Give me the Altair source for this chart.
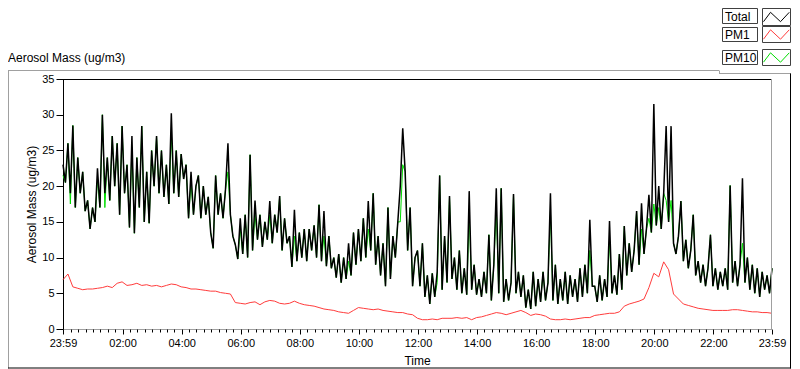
import altair as alt
import pandas as pd

# ---------------- data ----------------
# Total aerosol mass, one value every 5 minutes starting 23:59 (289 values)
total_vals = [
    23, 20.5, 26, 19, 28.5, 17, 24, 19, 22, 16.5, 18, 14,
    17, 15, 22.5, 17, 30, 19, 24, 18, 27, 20, 26, 16,
    28.4, 19, 23, 14.2, 27, 13.4, 24, 17, 28.4, 15, 22, 14.8,
    25, 20, 27, 19, 25, 18.5, 23, 17.5, 30.2, 19, 25, 18.5,
    24.5, 21, 23, 15.5, 22, 16, 20, 21.5, 15.5, 20, 16, 18.5,
    13.5, 11.3, 21.5, 16, 19, 15.5, 19.5, 26, 16, 13, 11.8, 9.8,
    15.5, 10.5, 16, 10, 24.4, 11, 18, 12.5, 16, 11.5, 15, 12.5,
    17.9, 12, 16, 13.5, 18.6, 11, 15.5, 12, 13, 8.7, 16.7, 9.5,
    13.5, 10, 14, 9.5, 14, 11, 14.5, 10, 17.4, 9.5, 16.5, 8.8,
    13, 8.5, 10, 7.2, 10.5, 6.5, 10, 7, 12, 7.5, 13.5, 9,
    14, 9.5, 15.5, 10, 17.9, 11, 19, 9, 13, 7.5, 12, 6,
    17, 7, 13, 10, 15, 20, 28.1, 22, 11, 17, 6, 10,
    11, 6, 12, 4.5, 7.5, 3.5, 7.8, 4.5, 8, 21.5, 5.5, 13,
    6.5, 18.6, 7, 10, 5.5, 11, 5, 8.5, 4.8, 19.3, 5.5, 9,
    4.8, 7, 4.5, 8, 5, 13.2, 4, 9, 19.7, 5, 19.7, 3.8,
    7, 4, 6.5, 18.9, 5, 8, 4.5, 7.5, 3, 5.5, 2.8, 8,
    3.2, 7, 3.8, 8, 4, 6.5, 19, 4, 9, 3.5, 7, 4,
    8, 3.5, 7.5, 4.5, 7, 3.8, 8.5, 4.5, 9, 5, 15.3, 6,
    6, 3.8, 7.5, 4, 7, 4.5, 15.1, 5, 7.5, 4.8, 10.5, 5.5,
    14.4, 7.5, 12, 8, 11, 16.5, 9, 17.6, 10.5, 14, 18.8, 13.5,
    31.5, 14.5, 20, 14, 19, 28.4, 15, 28.4, 12, 10.5, 13, 17.9,
    9.5, 12.5, 8.5, 11, 16, 7.5, 9.5, 6.5, 9, 6, 8.5, 13.2,
    6, 8.5, 5.5, 8, 6, 8.5, 5.5, 20.1, 6.5, 9.5, 6, 9,
    21.1, 6.5, 10, 5.5, 9, 5, 8.5, 4.5, 8, 5.5, 7.5, 5, 8.5,
]

# PM10, one value every 5 minutes (mostly hidden under Total)
pm10_vals = [
    21.5, 20.5, 26, 17.5, 28.5, 17, 24, 19, 22, 16.5, 18, 14,
    17, 15, 21, 17, 30, 17, 24, 18, 27, 20, 26, 16,
    28.4, 19, 23, 14.2, 25.5, 13.4, 24, 17, 28.4, 15, 22, 14.8,
    25, 20, 27, 19, 25, 18.5, 23, 17.5, 27.5, 19, 25, 18.5,
    24.5, 21, 23, 15.5, 20.5, 16, 20, 21.5, 15.5, 20, 16, 18.5,
    13.5, 11.3, 21.5, 16, 19, 15.5, 19.5, 22, 16, 13, 11.8, 9.8,
    14, 10.5, 16, 10, 24.4, 11, 16, 12.5, 16, 11.5, 15, 12.5,
    16, 12, 16, 13.5, 18.6, 11, 15.5, 12, 13, 8.7, 13, 9.5,
    13.5, 10, 14, 9.5, 14, 11, 14.5, 10, 17.4, 9.5, 13, 8.8,
    13, 8.5, 10, 7.2, 10.5, 6.5, 10, 7, 9.5, 7.5, 13.5, 9,
    14, 9.5, 15.5, 10, 14, 11, 19, 9, 13, 7.5, 12, 6,
    17, 7, 13, 10, 15, 15, 23, 22, 11, 17, 6, 10,
    11, 6, 12, 4.5, 7.5, 3.5, 7.8, 4.5, 6.5, 21.5, 5.5, 13,
    6.5, 18.6, 7, 10, 5.5, 11, 5, 8.5, 4.8, 16, 5.5, 9,
    4.8, 7, 4.5, 8, 5, 13.2, 4, 9, 17, 5, 19.7, 3.8,
    7, 4, 6.5, 18.9, 5, 8, 4.5, 7.5, 3, 5.5, 2.8, 8,
    3.2, 7, 3.8, 8, 4, 6.5, 16.5, 4, 9, 3.5, 7, 4,
    8, 3.5, 7.5, 4.5, 7, 3.8, 8.5, 4.5, 9, 5, 11, 6,
    6, 3.8, 7.5, 4, 7, 4.5, 12.5, 5, 7.5, 4.8, 10.5, 5.5,
    14.4, 7.5, 12, 8, 11, 16.5, 9, 14, 10.5, 14, 15.5, 13.5,
    17.5, 14.5, 17, 14, 19, 18, 15, 18, 12, 10.5, 13, 17.9,
    9.5, 12.5, 8.5, 11, 16, 7.5, 9.5, 6.5, 9, 6, 8.5, 13.2,
    6, 8.5, 5.5, 8, 6, 8.5, 5.5, 20.1, 6.5, 9.5, 6, 9,
    12, 6.5, 10, 5.5, 9, 5, 8.5, 4.5, 8, 5.5, 7.5, 5, 8.5,
]

# PM1, one value every 10 minutes (145 values)
pm1_vals = [
    6.9, 7.7, 5.9, 5.7, 5.5, 5.6, 5.6, 5.7, 5.8, 6.0, 5.8, 6.4,
    6.6, 6.1, 6.2, 6.4, 6.1, 6.2, 6.0, 6.1, 5.9, 6.1, 6.3, 6.2,
    5.9, 5.8, 5.6, 5.6, 5.5, 5.4, 5.3, 5.3, 5.1, 5.0, 4.9, 3.7,
    3.6, 3.5, 3.7, 3.8, 3.4, 3.8, 4.0, 3.9, 3.6, 3.5, 3.6, 3.9,
    3.6, 3.4, 3.3, 3.2, 3.0, 2.8, 2.7, 2.6, 2.4, 2.3, 2.2, 2.6,
    3.0, 2.9, 2.8, 2.7, 2.8, 2.6, 2.5, 2.4, 2.3, 2.3, 2.1, 2.0,
    1.5, 1.3, 1.3, 1.4, 1.3, 1.5, 1.5, 1.5, 1.6, 1.5, 1.6, 1.3,
    1.6, 1.7, 1.9, 2.1, 2.3, 2.2, 2.0, 2.2, 2.4, 2.6, 2.3, 1.9,
    2.1, 2.0, 1.8, 1.4, 1.3, 1.3, 1.4, 1.3, 1.4, 1.5, 1.6, 1.6,
    1.9, 2.0, 2.1, 2.2, 2.2, 2.4, 3.2, 3.5, 3.7, 3.9, 4.2, 5.8,
    7.8, 7.3, 9.4, 8.3, 4.9, 4.2, 3.5, 3.3, 3.1, 2.9, 2.8, 2.7,
    2.6, 2.6, 2.6, 2.6, 2.7, 2.7, 2.6, 2.5, 2.4, 2.4, 2.3, 2.3, 2.2,
]

series_names = ["Total", "PM1", "PM10"]
series_colors = ["#000000", "#ff3c3c", "#00dd00"]

# minutes after 23:59
major_ticks = [0, 121, 241, 361, 481, 601, 721, 841, 961, 1081, 1201, 1321, 1440]
minor_ticks = [1 + 15 * k for k in range(96)]
y_ticks = [0, 5, 10, 15, 20, 25, 30, 35]

y_title = "Aerosol Mass (ug/m3)"
x_title = "Time"

# ---------------- tables ----------------
df_total = pd.DataFrame({"t": [5 * i for i in range(len(total_vals))], "v": total_vals})
df_pm10 = pd.DataFrame({"t": [5 * i for i in range(len(pm10_vals))], "v": pm10_vals})
df_pm1 = pd.DataFrame({"t": [10 * i for i in range(len(pm1_vals))], "v": pm1_vals})
one = pd.DataFrame({"k": [0]})

FONT = "Liberation Sans"
W, H = 709, 250
R = 728  # right edge of the outer frame, relative to the plot origin

xscale = alt.Scale(domain=[0, 1440], nice=False, zero=False)
yscale = alt.Scale(domain=[0, 35], nice=False, zero=True)

label_expr = ("datum.value == 0 || datum.value == 1440 ? '23:59' : "
              "(datum.value < 601 ? '0' : '') + floor((datum.value - 1) / 60) + ':00'")

main_x_axis = alt.Axis(
    orient="bottom", values=major_ticks, labelExpr=label_expr, grid=False,
    tickSize=5, tickColor="#000000", domainColor="#a0a0a0",
    labelColor="#000000", labelFont=FONT, labelFontSize=11, labelPadding=3,
    labelFlush=False, labelOverlap=False,
    title=x_title, titleFont=FONT, titleFontSize=12, titleFontWeight="normal",
    titleColor="#000000", titleX=354, titleY=31, titleBaseline="middle",
)
minor_x_axis = alt.Axis(
    orient="bottom", values=minor_ticks, labels=False, domain=False, grid=False,
    tickSize=3, tickColor="#000000", title=None,
)
y_axis = alt.Axis(
    orient="left", values=y_ticks, grid=False, tickSize=7, tickColor="#000000",
    domainColor="#000000", labelColor="#000000", labelFont=FONT,
    labelFontSize=11, labelPadding=2,
    title=y_title, titleFont=FONT, titleFontSize=12, titleFontWeight="normal",
    titleColor="#000000", titleX=-32, titleY=125, titleBaseline="middle",
)

pm10_layer = alt.Chart(df_pm10).mark_line(color=series_colors[2], strokeWidth=1).encode(
    x=alt.X("t:Q", scale=xscale, axis=main_x_axis),
    y=alt.Y("v:Q", scale=yscale, axis=y_axis),
)
pm1_layer = alt.Chart(df_pm1).mark_line(color=series_colors[1], strokeWidth=1).encode(
    x=alt.X("t:Q", scale=xscale, axis=None),
    y=alt.Y("v:Q", scale=yscale, axis=y_axis),
)
total_layer = alt.Chart(df_total).mark_line(color=series_colors[0], strokeWidth=1.5).encode(
    x=alt.X("t:Q", scale=xscale, axis=minor_x_axis),
    y=alt.Y("v:Q", scale=yscale, axis=y_axis),
)


def hline(y, x1, x2, color):
    return alt.Chart(one).mark_rule(color=color, strokeWidth=1).encode(
        x=alt.value(x1), x2=alt.value(x2), y=alt.value(y))


def vline(x, y1, y2, color):
    return alt.Chart(one).mark_rule(color=color, strokeWidth=1).encode(
        x=alt.value(x), y=alt.value(y1), y2=alt.value(y2))


frame = [
    hline(0.5, 0, W, "#000000"),          # plot top border
    vline(W - 0.5, 0, H, "#a0a0a0"),      # plot right border
    hline(-8.5, -55, 656, "#a0a0a0"),     # outer frame top
    vline(656.5, -8.5, -5.5, "#a0a0a0"),
    hline(-5.5, 656, R, "#a0a0a0"),
    vline(-54.5, -8.5, 289.5, "#a0a0a0"),  # outer frame left
    vline(R - 0.5, -5.5, 289.5, "#000000"),  # outer frame right
    hline(289, -55, R, "#000000"),         # outer frame bottom
]

title_layer = alt.Chart(one).mark_text(
    align="left", baseline="middle", font=FONT, fontSize=12, color="#000000"
).encode(x=alt.value(-55), y=alt.value(-21), text=alt.value(y_title))

label_rows = [(-70.5, -55.5), (-51.5, -37.5), (-28.5, -14.5)]
sample_rows = [(-70.5, -53.5), (-52.5, -36.5), (-29.5, -13.5)]
zigzag = "M-1,0.36L-0.46,-0.36L0.31,0.36L0.98,-0.36"
LX1, LX2 = 659.5, 694.5
SX1, SX2 = 699.5, 727.5

legend_layers = []
for i, name in enumerate(series_names):
    ly1, ly2 = label_rows[i]
    sy1, sy2 = sample_rows[i]
    legend_layers.append(alt.Chart(one).mark_rect(fill="#ffffff", stroke="#404040", strokeWidth=1).encode(
        x=alt.value(LX1), x2=alt.value(LX2), y=alt.value(ly1), y2=alt.value(ly2)))
    legend_layers.append(alt.Chart(one).mark_text(
        align="left", baseline="middle", font=FONT, fontSize=12, color="#000000"
    ).encode(x=alt.value(LX1 + 2.5), y=alt.value((ly1 + ly2) / 2 + 0.5), text=alt.value(name)))
    legend_layers.append(alt.Chart(one).mark_rect(fill="#ffffff", stroke="#404040", strokeWidth=1).encode(
        x=alt.value(SX1), x2=alt.value(SX2), y=alt.value(sy1), y2=alt.value(sy2)))
    legend_layers.append(alt.Chart(one).mark_point(
        shape=zigzag, size=676, filled=False, stroke=series_colors[i], strokeWidth=1, opacity=1
    ).encode(x=alt.value((SX1 + SX2) / 2), y=alt.value((sy1 + sy2) / 2)))

chart = alt.layer(
    pm10_layer, pm1_layer, total_layer, *frame, title_layer, *legend_layers
).resolve_axis(x="independent").properties(
    width=W, height=H,
    padding={"left": 55, "top": 71, "right": 20, "bottom": 40},
    autosize=alt.AutoSizeParams(type="none"),
    background="#ffffff",
).configure_view(stroke=None)

chart.save("out.html", embed_options={"renderer": "svg", "actions": False})
